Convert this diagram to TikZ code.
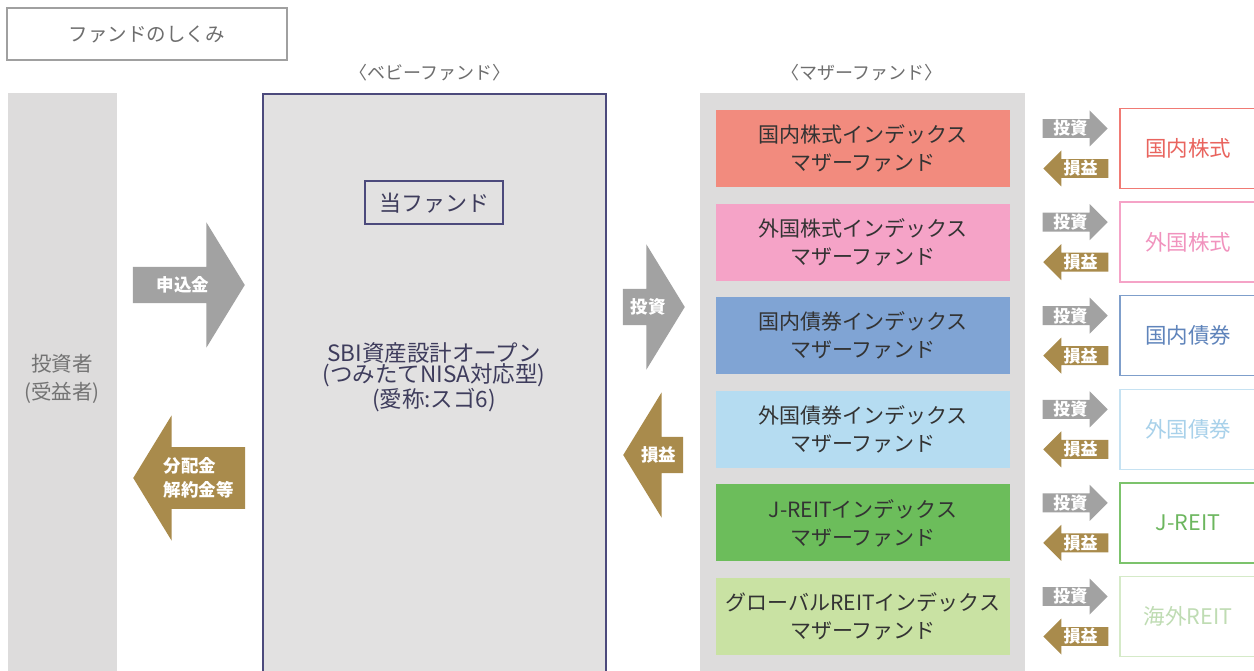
\documentclass[tikz,border=0pt]{standalone}
\usepackage{fontspec}
\setmainfont{Noto Sans CJK JP}
\usepackage{tikz}
\definecolor{panelgray}{HTML}{DDDCDC}
\definecolor{babyfill}{HTML}{E2E1E1}
\definecolor{babyline}{HTML}{4C4A7C}
\definecolor{babytext}{HTML}{3E3C5C}
\definecolor{titleline}{HTML}{A0A0A0}
\definecolor{titletext}{HTML}{6E6E6E}
\definecolor{arrowgray}{HTML}{A2A2A2}
\definecolor{arrowbrown}{HTML}{A98B4C}
\definecolor{fill01}{HTML}{F28B7E}
\definecolor{fill02}{HTML}{F5A3C7}
\definecolor{fill03}{HTML}{80A4D4}
\definecolor{fill04}{HTML}{B5DCF1}
\definecolor{fill05}{HTML}{6CBD5B}
\definecolor{fill06}{HTML}{C9E2A3}
\definecolor{line01}{HTML}{F07A74}
\definecolor{line02}{HTML}{F5A3C7}
\definecolor{line03}{HTML}{7F9FCB}
\definecolor{line04}{HTML}{C6E2F2}
\definecolor{line05}{HTML}{7CC36C}
\definecolor{line06}{HTML}{D5EAC8}
\definecolor{text01}{HTML}{E9645E}
\definecolor{text02}{HTML}{F193BE}
\definecolor{text03}{HTML}{5F84BB}
\definecolor{text04}{HTML}{A8D1EA}
\definecolor{text05}{HTML}{6CB65E}
\definecolor{text06}{HTML}{BFDCB3}
\usetikzlibrary{positioning, shapes.arrows}

\begin{document}
\begin{tikzpicture}[x=1pt, y=-1pt]

  \tikzstyle{panel} = [%
  anchor=north west,
  fill=panelgray,
  inner sep=0pt,
  rectangle,
  ];

  \tikzstyle{fundbox} = [%
  align=center,
  fill=white,
  font={\fontsize{21}{28}\selectfont},
  minimum height=77pt,
  minimum width=294pt,
  rectangle,
  text=black!80,
  ];

  \tikzstyle{assetbox} = [%
  fill=white,
  font={\fontsize{21.5}{24}\selectfont},
  line width=1.5pt,
  minimum height=80pt,
  minimum width=136pt,
  rectangle,
  ];

  \tikzstyle{bigarrow} = [%
  align=left,
  font={\bfseries\fontsize{17.5}{24}\selectfont},
  inner sep=0pt,
  minimum width=125pt,
  shape=single arrow,
  single arrow head extend=21pt,
  single arrow tip angle=117,
  text=white,
  ];

  \tikzstyle{smallarrow} = [%
  font={\bfseries\fontsize{17}{17}\selectfont},
  inner sep=0pt,
  minimum height=65pt,
  minimum width=36pt,
  shape=single arrow,
  single arrow head extend=7.5pt,
  single arrow tip angle=90,
  text=white,
  ];

  \path[use as bounding box, fill=white] (0,0) rectangle (1254,671);

  \node[draw=titleline, line width=1.5pt, minimum width=280pt, minimum height=52pt,
    font={\fontsize{19.5}{19.5}\selectfont}, text=titletext] (title) at (147,34) {ファンドのしくみ};
  \node[font={\fontsize{18}{18}\selectfont}, text=titletext] (babylabel) at (430,73) {〈ベビーファンド〉};
  \node[font={\fontsize{18}{18}\selectfont}, text=titletext] (motherlabel) at (862,73) {〈マザーファンド〉};

  \node[panel, minimum width=109pt, minimum height=600pt] (investor) at (8,93) {};
  \node[align=center, font={\fontsize{20.5}{28}\selectfont}, text=black!55] (investorlabel) at (62,379) {投資者\\(受益者)};

  \node[panel, fill=babyfill, draw=babyline, line width=2pt, minimum width=343pt, minimum height=610pt] (baby) at (262,93) {};
  \node[draw=babyline, line width=2pt, fill=babyfill, minimum width=138pt, minimum height=43pt,
    font={\fontsize{22}{22}\selectfont}, text=babytext] (thisfund) at (434,203) {当ファンド};
  \node[align=center, font={\fontsize{22.5}{21.5}\selectfont}, text=babytext] (babyname) at (434,377)
    {SBI資産設計オープン\\(つみたてNISA対応型)\\(愛称:スゴ6)};

  \node[bigarrow, fill=arrowgray, minimum height=112pt, anchor=tip] (apply) at (245,285) {申込金};
  \node[bigarrow, fill=arrowbrown, minimum height=112pt, shape border rotate=180, anchor=tip] (payout) at (133,478) {分配金\\解約金等};
  \node[bigarrow, fill=arrowgray, minimum height=62pt, anchor=tip] (invest) at (685,307) {投資};
  \node[bigarrow, fill=arrowbrown, minimum height=60pt, shape border rotate=180, anchor=tip] (gain) at (623,455) {損益};

  \node[panel, minimum width=325pt, minimum height=600pt] (mother) at (700,93) {};

  \foreach \i/\n/\fund/\asset in {0/01/国内株式/国内株式, 1/02/外国株式/外国株式, 2/03/国内債券/国内債券,
    3/04/外国債券/外国債券, 4/05/J-REIT/J-REIT, 5/06/グローバルREIT/海外REIT} {
    \node[fundbox, fill=fill\n] (fund\n) at (863, 148.5+93.6*\i) {\fund インデックス\\マザーファンド};
    \node[assetbox, draw=line\n, text=text\n] (asset\n) at (1188, 148.5+93.6*\i) {\asset};
    \node[smallarrow, fill=arrowgray, anchor=tip] (invest\n) at (1108, 128.5+93.6*\i) {投資};
    \node[smallarrow, fill=arrowbrown, shape border rotate=180, anchor=tip] (gain\n) at (1043, 168.5+93.6*\i) {損益};
  }

\end{tikzpicture}
\end{document}
